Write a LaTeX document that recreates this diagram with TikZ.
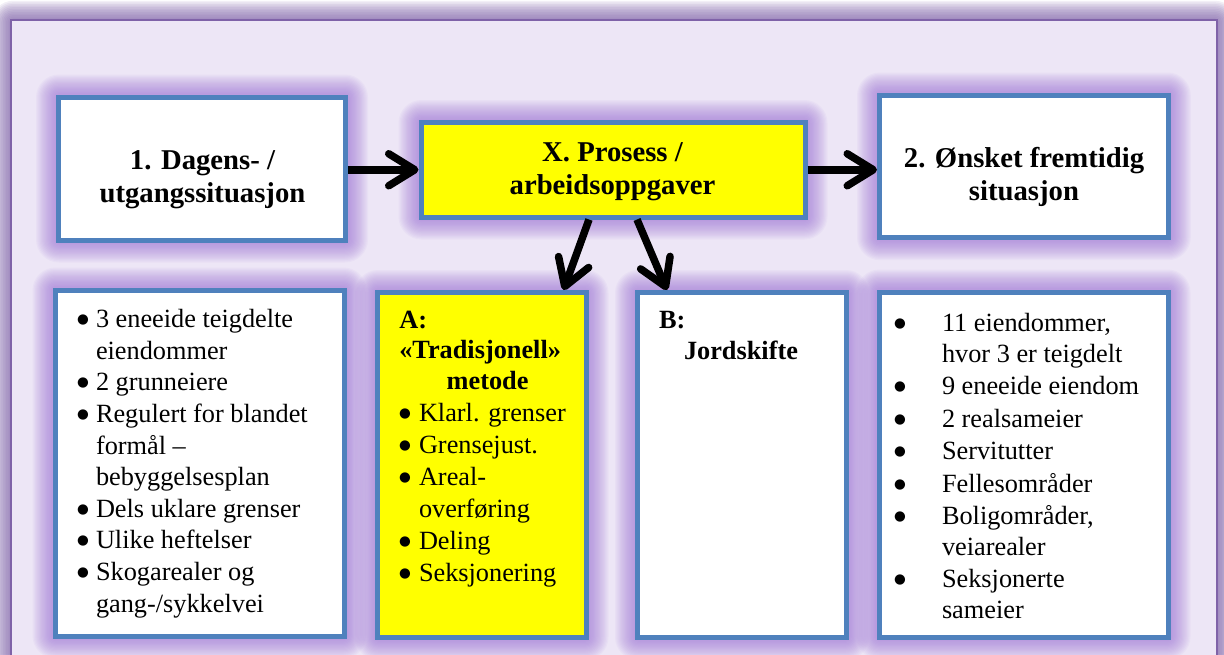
\documentclass[tikz,border=0pt]{standalone}
\usepackage{fontspec}
\setmainfont{Liberation Serif}
\newfontfamily\bulletfont{DejaVu Sans}
\usetikzlibrary{arrows.meta,backgrounds}

\definecolor{boxblue}{HTML}{4F81BD}
\definecolor{frameline}{HTML}{7F62A8}
\definecolor{framefill}{HTML}{EDE6F6}
\definecolor{glowcol}{HTML}{9D72D6}
\definecolor{frameglow}{HTML}{8467AD}
\definecolor{hiyellow}{HTML}{FFFF00}

\tikzset{
  box/.style={draw=boxblue, line width=5pt, rectangle, inner sep=0pt},
  whitebox/.style={box, fill=white},
  yellowbox/.style={box, fill=hiyellow},
  txt/.style={inner sep=0pt, outer sep=0pt, anchor=base west},
  ctxt/.style={inner sep=0pt, outer sep=0pt, anchor=base},
  arr/.style={line width=7.5pt, -{Straight Barb[length=26pt,width=32pt,round]}},
}
\newcommand\headfont{\fontsize{28.7}{33}\selectfont\bfseries}
\newcommand\bodyfont[1]{\fontsize{26.3}{#1}\selectfont}
% list bullet: a round dot in a fixed-width box
\newcommand\bul{\makebox[9.1pt][c]{\smash{\raisebox{4.2pt}{\bulletfont\fontsize{13.5}{13.5}\selectfont ●}}}}

\begin{document}
\begin{tikzpicture}[x=1pt,y=-1pt]
\useasboundingbox (0,0) rectangle (1224,654);

% boxes
\node[whitebox,  minimum width=287pt,   minimum height=143pt]   (b1) at (202,168.5) {};
\node[yellowbox, minimum width=384pt,   minimum height=94.5pt]  (bx) at (613,169.75) {};
\node[whitebox,  minimum width=288.8pt, minimum height=142.7pt] (b2) at (1023.9,166.35) {};
\node[whitebox,  minimum width=289pt,   minimum height=346pt]   (bl) at (199.5,463) {};
\node[yellowbox, minimum width=208.5pt, minimum height=345pt]   (ba) at (481.75,465) {};
\node[whitebox,  minimum width=209pt,   minimum height=345pt]   (bb) at (742,465) {};
\node[whitebox,  minimum width=289pt,   minimum height=345pt]   (br) at (1023.5,464.5) {};

% headings of the top row
\node[ctxt] (t1) at (202.5,169.5) {\headfont\begin{tabular}[t]{@{}c@{}}1. Dagens- /\\utgangssituasjon\end{tabular}};
\node[ctxt] (tx) at (612.5,161) {\headfont\begin{tabular}[t]{@{}c@{}}X. Prosess /\\arbeidsoppgaver\end{tabular}};
\node[ctxt] (t2) at (1024,167) {\headfont\begin{tabular}[t]{@{}c@{}}2. Ønsket fremtidig\\situasjon\end{tabular}};

% today's situation
\node[txt] (tl) at (78.5,327.7) {\bodyfont{31.6}\begin{tabular}[t]{@{}l@{\hspace{8.4pt}}l@{}}
\bul & 3 eneeide teigdelte\\
     & eiendommer\\
\bul & 2 grunneiere\\
\bul & Regulert for blandet\\
     & formål –\\
     & bebyggelsesplan\\
\bul & Dels uklare grenser\\
\bul & Ulike heftelser\\
\bul & Skogarealer og\\
     & gang-/sykkelvei
\end{tabular}};

% method A
\node[txt] (ha) at (399.3,328.3) {\bodyfont{30.5}\bfseries\begin{tabular}[t]{@{}l@{}}
A:\\
«Tradisjonell»\\
\hspace{47.4pt}metode
\end{tabular}};
\node[txt] (la) at (400.5,421.7) {\bodyfont{32}\begin{tabular}[t]{@{}l@{\hspace{9.4pt}}l@{}}
\bul & Klarl. grenser\\
\bul & Grensejust.\\
\bul & Areal-\\
     & overføring\\
\bul & Deling\\
\bul & Seksjonering
\end{tabular}};

% method B
\node[txt] (hb) at (659,328.3) {\bodyfont{30.7}\bfseries\begin{tabular}[t]{@{}l@{}}
B:\\
\hspace{25pt}Jordskifte
\end{tabular}};

% desired situation
\node[txt] (lr) at (895.5,331.7) {\bodyfont{30.5}\begin{tabular}[t]{@{}l@{\hspace{37.4pt}}l@{}}
\bul & 11 eiendommer,\\
     & hvor 3 er teigdelt\\[2pt]
\bul & 9 eneeide eiendom\\[2pt]
\bul & 2 realsameier\\[2pt]
\bul & Servitutter\\[2pt]
\bul & Fellesområder\\[2pt]
\bul & Boligområder,\\
     & veiarealer\\[2pt]
\bul & Seksjonerte\\
     & sameier
\end{tabular}};

% connectors
\draw[arr] (bx.west -| b1.east) -- (bx.west);
\draw[arr] (bx.east) -- (bx.east -| b2.west);
\draw[arr] ([xshift=-24pt]bx.south) -- ([xshift=-25pt]ba.north east);
\draw[arr] ([xshift=24pt]bx.south) -- ([xshift=32pt]bb.north west);

% frame and glows
\begin{scope}[on background layer]
  \clip (0,0) rectangle (1224,654);
  \fill[white] (0,0) rectangle (1224,654);
  \foreach \i in {1,...,12} {
    \pgfmathsetmacro\rr{1.6*\i+2}
    \fill[frameglow, opacity=0.1, rounded corners=\rr pt]
      ({11-1.6*\i},{20-1.6*\i}) rectangle ({1217+1.6*\i},{700+1.6*\i});
  }
  \fill[framefill] (11,20) rectangle (1217,700);
  \draw[frameline, line width=2pt] (11,20) rectangle (1217,700);
  \foreach \n in {b1,bx,b2,bl,ba,bb,br} {
    \foreach \i in {1,...,16} {
      \pgfmathsetmacro\rr{1.25*\i+3}
      \pgfmathsetmacro\dd{1.25*\i}
      \fill[glowcol, opacity=0.055, rounded corners=\rr pt]
        ([shift={(-\dd pt,\dd pt)}]\n.north west) rectangle ([shift={(\dd pt,-\dd pt)}]\n.south east);
    }
  }
\end{scope}
\end{tikzpicture}
\end{document}
